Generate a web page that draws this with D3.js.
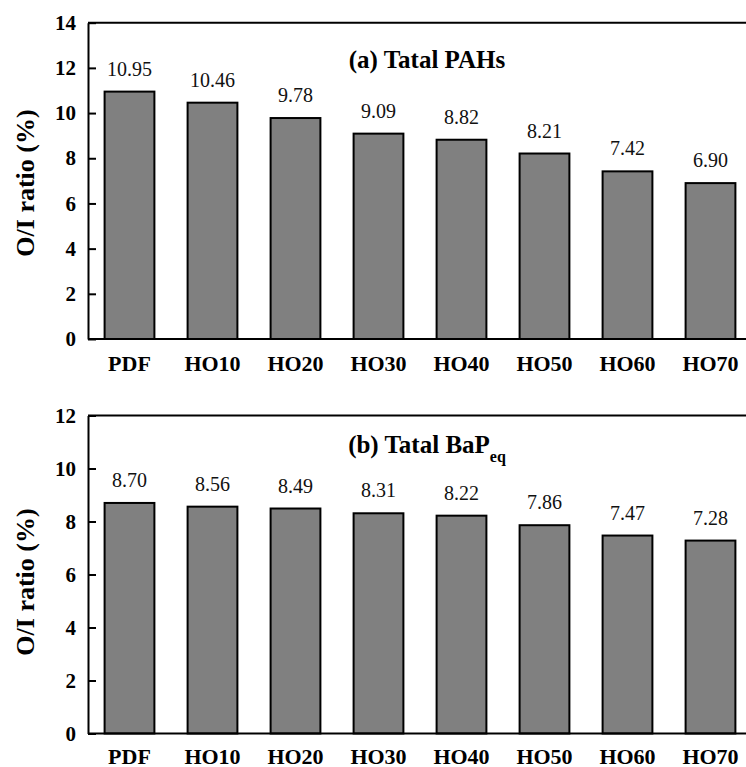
<!DOCTYPE html>
<html>
<head>
<meta charset="utf-8">
<script src="https://cdn.jsdelivr.net/npm/d3@7"></script>
<style>
  html, body { margin: 0; padding: 0; background: #fff; }
  svg { display: block; }
  svg text { font-family: "Liberation Serif", "Times New Roman", Times, serif !important; }
</style>
</head>
<body>
<svg id="chart" width="746" height="767"></svg>
<script>
const categories = ["PDF", "HO10", "HO20", "HO30", "HO40", "HO50", "HO60", "HO70"];
const totalPAHs = [10.95, 10.46, 9.78, 9.09, 8.82, 8.21, 7.42, 6.90];
const totalBaPeq = [8.70, 8.56, 8.49, 8.31, 8.22, 7.86, 7.47, 7.28];
const ticksA = [0, 2, 4, 6, 8, 10, 12, 14];
const ticksB = [0, 2, 4, 6, 8, 10, 12];

const FONT = '"Liberation Serif", "Times New Roman", Times, serif';
const svg = d3.select("#chart");
const W = 746;
const left = 88;

const x = d3.scaleBand().domain(categories).range([left, 752]).paddingInner(0.4).paddingOuter(0.2);

function panel(cfg) {
  const g = svg.append("g").attr("font-family", FONT);
  const y = d3.scaleLinear().domain([0, cfg.max]).range([cfg.bottom, cfg.top]);

  g.append("line").attr("x1", left).attr("x2", W).attr("y1", y(cfg.max)).attr("y2", y(cfg.max))
    .attr("stroke", "#000").attr("stroke-width", 2);

  g.selectAll("rect.bar").data(cfg.values).join("rect")
    .attr("class", "bar")
    .attr("x", (d, i) => x(categories[i]))
    .attr("width", x.bandwidth())
    .attr("y", d => y(d))
    .attr("height", d => y(0) - y(d))
    .attr("fill", "#808080")
    .attr("stroke", "#000")
    .attr("stroke-width", 2);

  g.selectAll("text.val").data(cfg.values).join("text")
    .attr("class", "val")
    .attr("x", (d, i) => x(categories[i]) + x.bandwidth() / 2)
    .attr("y", d => y(d) - 16)
    .attr("text-anchor", "middle")
    .style("font-family", FONT)
    .attr("font-size", 20)
    .attr("fill", "#111")
    .text(d => d.toFixed(2));

  g.append("line").attr("x1", left).attr("x2", W).attr("y1", y(0)).attr("y2", y(0))
    .attr("stroke", "#000").attr("stroke-width", 2);

  const ya = g.append("g").attr("transform", `translate(${left},0)`)
    .call(d3.axisLeft(y).tickValues(cfg.ticks).tickFormat(d3.format("d"))
      .tickSizeInner(-8).tickSizeOuter(0).tickPadding(12));
  ya.attr("font-family", FONT);
  ya.select(".domain").attr("stroke", "#000").attr("stroke-width", 2);
  ya.selectAll(".tick line").attr("stroke", "#000").attr("stroke-width", 2);
  ya.selectAll(".tick text").style("font-family", FONT).attr("font-size", 21).attr("font-weight", "bold")
    .attr("fill", "#000");

  g.selectAll("text.cat").data(categories).join("text")
    .attr("class", "cat")
    .attr("x", d => x(d) + x.bandwidth() / 2)
    .attr("y", y(0) + cfg.xlabOff)
    .attr("text-anchor", "middle")
    .style("font-family", FONT)
    .attr("font-size", 22)
    .attr("font-weight", "bold")
    .attr("fill", "#000")
    .text(d => d);

  g.append("text")
    .attr("transform", `translate(34,${cfg.ytitleY}) rotate(-90)`)
    .attr("text-anchor", "middle")
    .style("font-family", FONT)
    .attr("font-size", 26)
    .attr("font-weight", "bold")
    .attr("fill", "#000")
    .text("O/I ratio (%)");

  const t = g.append("text")
    .attr("x", 427)
    .attr("y", cfg.titleY)
    .attr("text-anchor", "middle")
    .style("font-family", FONT)
    .attr("font-size", 25)
    .attr("font-weight", "bold")
    .attr("fill", "#000");
  t.append("tspan").text(cfg.title);
  if (cfg.sub) {
    t.append("tspan").attr("font-size", 16).attr("dy", 9).text(cfg.sub);
  }
}

panel({ values: totalPAHs, max: 14, ticks: ticksA, top: 22.7, bottom: 339, xlabOff: 32,
        ytitleY: 183, title: "(a) Tatal PAHs", titleY: 68 });
panel({ values: totalBaPeq, max: 12, ticks: ticksB, top: 415.5, bottom: 733.5, xlabOff: 30,
        ytitleY: 582, title: "(b) Tatal BaP", sub: "eq", titleY: 453 });
</script>
</body>
</html>
